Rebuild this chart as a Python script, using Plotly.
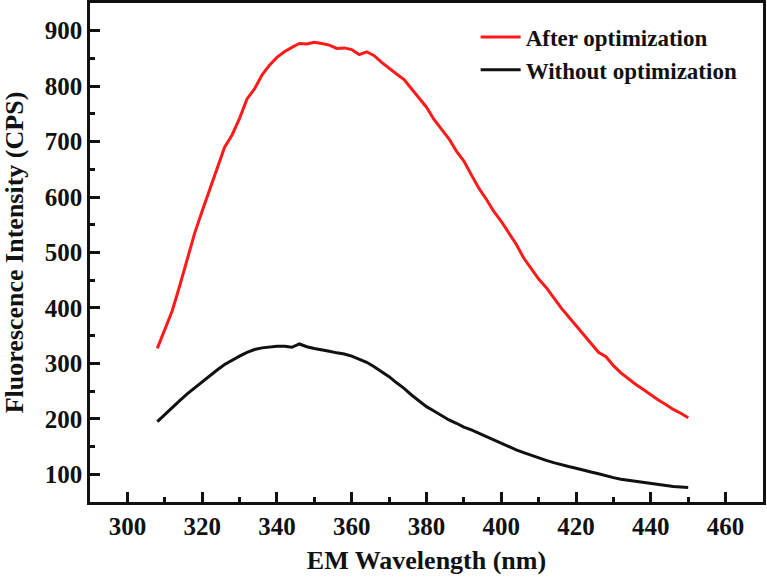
import plotly.graph_objects as go

wavelength = list(range(308, 451, 2))

after_opt = [327, 362, 395, 440, 488, 535, 575, 612, 650, 690,
             712, 742, 777, 795, 820, 838, 852, 862, 870, 877,
             876, 879, 877, 874, 868, 869, 866, 857, 862, 855,
             843, 832, 822, 812, 795, 777, 762, 740, 722, 705,
             683, 665, 640, 616, 596, 574, 556, 535, 515, 490,
             470, 452, 437, 418, 400, 384, 368, 350, 336, 320,
             312, 296, 283, 272, 262, 253, 243, 234, 226, 217,
             210, 202]

without_opt = [195, 208, 220, 233, 245, 256, 266, 277, 288, 298,
               306, 313, 320, 325, 328, 330, 331, 331, 329, 335,
               330, 327, 325, 322, 319, 317, 313, 307, 302, 294,
               285, 276, 265, 255, 243, 232, 222, 214, 206, 198,
               192, 185, 180, 174, 168, 162, 155, 150, 144, 139,
               134, 129, 125, 121, 117, 114, 111, 107, 104, 101,
               97, 94, 91, 89, 87, 85, 83, 81, 79, 78,
               77, 76]

x_ticks = [300, 320, 340, 360, 380, 400, 420, 440, 460]
y_ticks = [100, 200, 300, 400, 500, 600, 700, 800, 900]

FONT = "Liberation Serif"

fig = go.Figure()
fig.add_trace(go.Scatter(x=wavelength, y=after_opt, mode="lines",
                         name="<b>After optimization</b>",
                         line=dict(color="#ff1a1a", width=3)))
fig.add_trace(go.Scatter(x=wavelength, y=without_opt, mode="lines",
                         name="<b>Without optimization</b>",
                         line=dict(color="#111111", width=3)))

axis_common = dict(
    showline=True, linecolor="#111111", linewidth=2.5, mirror=True,
    ticks="inside", ticklen=10, tickwidth=2.5, tickcolor="#111111",
    showgrid=False, zeroline=False, automargin=False,
    tickfont=dict(family=FONT, size=25, color="#111111"),
    minor=dict(ticks="inside", ticklen=5, tickwidth=2.5, tickcolor="#111111"),
)

fig.update_xaxes(range=[290, 470], tickvals=x_ticks,
                 ticktext=[f"<b>{v}</b>" for v in x_ticks],
                 title=dict(text="<b>EM Wavelength (nm)</b>",
                            font=dict(family=FONT, size=26, color="#111111"),
                            standoff=13),
                 **axis_common)
fig.update_xaxes(minor=dict(tickvals=[310, 330, 350, 370, 390, 410, 430, 450]))
fig.update_yaxes(range=[50, 950], tickvals=y_ticks,
                 ticktext=[f"<b>{v}</b>" for v in y_ticks],
                 title=dict(text="<b>Fluorescence Intensity (CPS)</b>",
                            font=dict(family=FONT, size=26, color="#111111"),
                            standoff=14),
                 **axis_common)
fig.update_yaxes(minor=dict(tickvals=[150, 250, 350, 450, 550, 650, 750, 850]))

fig.update_layout(
    width=767, height=584,
    margin=dict(l=90, r=4, t=3, b=82),
    paper_bgcolor="white", plot_bgcolor="white",
    showlegend=True,
    legend=dict(x=0.573, y=0.975, xanchor="left", yanchor="top",
                bgcolor="rgba(0,0,0,0)",
                font=dict(family=FONT, size=23, color="#111111"),
                tracegroupgap=0, itemwidth=40),
)

fig.write_html("out.html",
               config={"displayModeBar": False},
               post_script="document.body.style.margin='0';"
                           "document.body.style.overflow='hidden';")
